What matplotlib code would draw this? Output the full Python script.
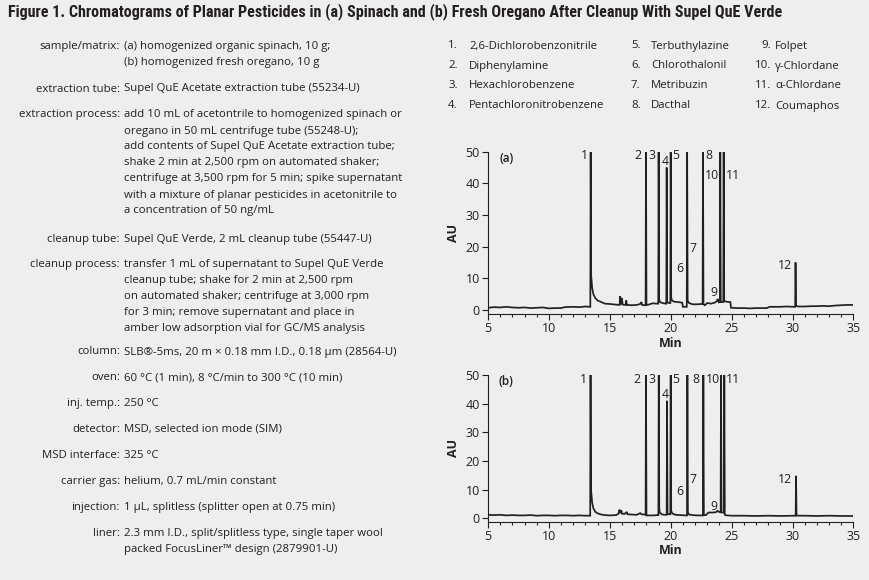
"""
Figure 1 recreation: chromatograms of planar pesticides, spinach (a) and oregano (b).
"""

import matplotlib

matplotlib.use("Agg")
import matplotlib.pyplot as plt
import numpy as np
from matplotlib import font_manager
from matplotlib.ticker import MultipleLocator

W, H = 869, 580
BG = "#eeeeee"
INK = "#231f20"

# ---- data -------------------------------------------------------------------
title = ("Figure 1. Chromatograms of Planar Pesticides in (a) Spinach and "
         "(b) Fresh Oregano After Cleanup With Supel QuE Verde")

cond_labels = ["sample/matrix:", "extraction tube:", "extraction process:",
               "cleanup tube:", "cleanup process:", "column:", "oven:",
               "inj. temp.:", "detector:", "MSD interface:", "carrier gas:",
               "injection:", "liner:"]
cond_values = [
    ["(a) homogenized organic spinach, 10 g;", "(b) homogenized fresh oregano, 10 g"],
    ["Supel QuE Acetate extraction tube (55234-U)"],
    ["add 10 mL of acetontrile to homogenized spinach or",
     "oregano in 50 mL centrifuge tube (55248-U);",
     "add contents of Supel QuE Acetate extraction tube;",
     "shake 2 min at 2,500 rpm on automated shaker;",
     "centrifuge at 3,500 rpm for 5 min; spike supernatant",
     "with a mixture of planar pesticides in acetonitrile to",
     "a concentration of 50 ng/mL"],
    ["Supel QuE Verde, 2 mL cleanup tube (55447-U)"],
    ["transfer 1 mL of supernatant to Supel QuE Verde",
     "cleanup tube; shake for 2 min at 2,500 rpm",
     "on automated shaker; centrifuge at 3,000 rpm",
     "for 3 min; remove supernatant and place in",
     "amber low adsorption vial for GC/MS analysis"],
    ["SLB\u00ae-5ms, 20 m \u00d7 0.18 mm I.D., 0.18 \u00b5m (28564-U)"],
    ["60 \u00b0C (1 min), 8 \u00b0C/min to 300 \u00b0C (10 min)"],
    ["250 \u00b0C"],
    ["MSD, selected ion mode (SIM)"],
    ["325 \u00b0C"],
    ["helium, 0.7 mL/min constant"],
    ["1 \u00b5L, splitless (splitter open at 0.75 min)"],
    ["2.3 mm I.D., split/splitless type, single taper wool",
     "packed FocusLiner\u2122 design (2879901-U)"],
]
cond_rows_y = [46.5, 89, 115, 239.5, 264.5, 352, 378, 403.5, 429, 456, 481.5, 507.5, 533.5]

compounds = ["2,6-Dichlorobenzonitrile", "Diphenylamine", "Hexachlorobenzene",
             "Pentachloronitrobenzene", "Terbuthylazine", "Chlorothalonil",
             "Metribuzin", "Dacthal", "Folpet", "\u03b3-Chlordane",
             "\u03b1-Chlordane", "Coumaphos"]

# panel (a) spinach: baseline knots (min, AU)
base_a_t = [5.0, 5.5, 6.0, 6.5, 7.0, 7.5, 8.0, 8.5, 9.0, 9.5, 10.0, 10.5, 11.0, 11.3,
            12.0, 12.5, 13.0, 13.35, 13.55, 13.65, 13.8, 14.0, 14.3, 14.6, 15.0, 15.5,
            15.8, 15.85, 15.9, 16.0, 16.05, 16.3, 16.35, 16.4, 16.8, 17.2, 17.5, 17.6,
            17.65, 17.85, 18.2, 18.5, 18.9, 19.1, 19.3, 19.6, 19.9, 20.1, 20.3, 20.6,
            20.95, 21.0, 21.25, 21.5, 21.8, 22.2, 22.55, 22.8, 23.0, 23.3, 23.6, 23.8,
            23.85, 23.95, 24.6, 24.9, 24.95, 25.5, 26.0, 26.5, 27.0, 27.5, 27.9, 28.1,
            28.5, 29.0, 29.5, 30.1, 30.5, 31.0, 31.5, 32.0, 32.5, 33.0, 33.5, 34.0,
            34.5, 35.0]
base_a_y = [0.7, 0.9, 0.8, 1.0, 0.8, 0.7, 0.8, 0.6, 0.7, 0.8, 0.5, 0.6, 0.6, 0.9,
            1.0, 0.9, 1.1, 1.0, 7.0, 5.0, 3.8, 3.0, 2.5, 2.0, 1.9, 1.7,
            1.6, 4.4, 1.8, 3.8, 1.7, 1.6, 3.0, 1.6, 1.5, 1.6, 1.9, 2.5,
            1.6, 1.5, 1.7, 2.1, 2.0, 2.6, 2.2, 2.0, 2.2, 3.0, 2.6, 2.5,
            2.3, 1.0, 1.0, 2.2, 1.8, 1.8, 1.9, 1.5, 2.2, 2.0, 2.3, 2.8,
            3.5, 2.4, 2.6, 2.5, 0.7, 0.6, 0.6, 0.5, 0.6, 0.6, 0.6, 1.0,
            1.0, 1.0, 1.1, 1.0, 1.1, 1.1, 1.2, 1.2, 1.3, 1.2, 1.4, 1.5,
            1.6, 1.6]
# peaks: retention time, visible top (clipped at 50), level before, level after
peak_a_t = [13.43, 17.97, 19.01, 19.67, 20.0, 21.35, 22.65, 24.07, 24.35, 30.25]
peak_a_h = [50, 50, 50, 45, 50, 50, 50, 50, 50, 15]
peak_a_pre = [1.0, 1.5, 2.0, 2.0, 2.2, 1.0, 1.9, 2.5, 2.5, 1.0]
peak_a_post = [11.0, 1.6, 3.5, 2.4, 4.0, 3.0, 1.8, 2.5, 2.8, 1.3]

# panel (b) oregano
base_b_t = [5.0, 5.5, 6.0, 6.5, 7.0, 7.5, 8.0, 8.5, 9.0, 9.5, 10.0, 10.5, 11.0, 11.5,
            12.0, 12.5, 13.0, 13.35, 13.55, 13.65, 13.8, 14.0, 14.3, 14.6, 15.0, 15.5,
            15.7, 15.8, 15.85, 15.95, 16.0, 16.2, 16.4, 16.45, 16.8, 17.2, 17.5, 17.6,
            17.85, 18.2, 18.6, 18.9, 19.1, 19.3, 19.6, 19.9, 20.15, 20.4, 20.8, 21.2,
            21.5, 21.8, 22.2, 22.55, 22.9, 23.1, 23.4, 23.7, 23.85, 23.95, 24.6, 25.0,
            26.0, 27.0, 28.0, 29.0, 30.15, 30.5, 31.0, 32.0, 33.0, 34.0, 35.0]
base_b_y = [1.2, 1.1, 1.2, 1.0, 1.1, 1.0, 1.0, 1.1, 0.9, 1.0, 1.0, 0.9, 1.0, 1.0,
            0.9, 1.0, 0.9, 0.9, 5.5, 3.5, 2.3, 1.7, 1.3, 1.1, 1.0, 1.1,
            1.5, 3.0, 1.8, 2.8, 1.6, 1.5, 2.2, 1.4, 1.3, 1.2, 1.8, 1.4,
            1.3, 1.0, 1.0, 1.1, 2.0, 1.3, 1.2, 1.4, 1.6, 1.2, 1.1, 1.0,
            1.3, 1.1, 1.0, 1.0, 1.1, 2.0, 2.0, 2.1, 2.6, 2.2, 1.0, 0.9,
            0.9, 0.8, 0.9, 0.8, 0.9, 0.9, 0.9, 0.8, 0.9, 0.8, 0.8]
peak_b_t = [13.42, 17.97, 19.02, 19.7, 20.0, 21.37, 22.68, 24.13, 24.4, 30.29]
peak_b_h = [50, 50, 50, 41, 50, 50, 50, 50, 50, 14.8]
peak_b_pre = [0.9, 1.3, 1.1, 1.2, 1.4, 1.0, 1.0, 2.2, 2.0, 0.9]
peak_b_post = [10.0, 1.0, 3.5, 1.5, 2.5, 2.0, 1.1, 2.0, 1.2, 1.0]

# peak number labels: text, x (min), y (AU)
peak_labels = ["1", "2", "3", "4", "5", "6", "7", "8", "9", "10", "11", "12"]
lab_a_x = [12.9, 17.3, 18.5, 19.55, 20.4, 20.77, 21.8, 23.1, 23.55, 23.35, 25.1, 29.4]
lab_a_y = [48.8, 48.8, 48.8, 47.0, 48.8, 13.0, 19.5, 48.8, 5.5, 42.5, 42.5, 14.1]
lab_b_x = [12.85, 17.26, 18.47, 19.56, 20.43, 20.76, 21.8, 22.1, 23.55, 23.45, 25.14, 29.4]
lab_b_y = [48.4, 48.4, 48.4, 43.2, 48.4, 9.5, 13.7, 48.4, 4.0, 48.4, 48.4, 13.7]


# ---- helpers ----------------------------------------------------------------
def pick_family(candidates):
    names = {f.name for f in font_manager.fontManager.ttflist}
    for c in candidates:
        if c in names:
            return c
    return "DejaVu Sans"


BODY = pick_family(["Open Sans", "Noto Sans", "Lato", "DejaVu Sans"])
TITLE = pick_family(["Liberation Sans Narrow", "Roboto Condensed", "DejaVu Sans"])


def fx(x):
    return x / W


def fy(y):
    return 1 - y / H


def build_trace(bt, by, pt, ph, pre, post):
    pts = list(zip(bt, by))
    for t, h, a, b in zip(pt, ph, pre, post):
        pts += [(t - 0.03, a), (t, h), (t + 0.04, b)]
    pts.sort(key=lambda p: p[0])
    arr = np.array(pts)
    return arr[:, 0], arr[:, 1]


def draw_panel(ax, trace, tag, labels_x, labels_y, ybottom):
    t, y = trace
    ax.plot(t, y, color=INK, lw=1.25, solid_joinstyle="miter")
    ax.set_xlim(5, 35)
    ax.set_ylim(ybottom, 50)
    ax.set_facecolor(BG)
    for s in ("top", "right"):
        ax.spines[s].set_visible(False)
    for s in ("left", "bottom"):
        ax.spines[s].set_color(INK)
        ax.spines[s].set_linewidth(0.8)
    ax.xaxis.set_major_locator(MultipleLocator(5))
    ax.xaxis.set_minor_locator(MultipleLocator(1))
    ax.yaxis.set_major_locator(MultipleLocator(10))
    ax.tick_params(axis="both", which="major", direction="out", length=4,
                   width=0.8, color=INK, labelsize=9, labelcolor=INK, pad=2)
    ax.tick_params(axis="x", which="minor", direction="out", length=2.5,
                   width=0.8, color=INK)
    for lbl in ax.get_xticklabels() + ax.get_yticklabels():
        lbl.set_fontfamily(BODY)
    ax.set_xlabel("Min", fontfamily=BODY, fontsize=9, fontweight="bold",
                  color=INK, labelpad=1)
    ax.set_ylabel("AU", fontfamily=BODY, fontsize=9, fontweight="bold",
                  color=INK, labelpad=4)
    ax.text(6.5, 50, tag, fontfamily=BODY, fontsize=8.5, fontweight="semibold",
            color=INK, ha="center", va="top")
    for s, x, yy in zip(peak_labels, labels_x, labels_y):
        ax.text(x, yy, s, fontfamily=BODY, fontsize=8.8, color=INK,
                ha="center", va="center")


# ---- figure -----------------------------------------------------------------
fig = plt.figure(figsize=(W / 100, H / 100), dpi=100, facecolor=BG)

fig.text(fx(8), fy(12), title, fontfamily=TITLE, fontsize=11.6,
         fontweight="bold", color=INK, ha="left", va="center")

for label, lines, y0 in zip(cond_labels, cond_values, cond_rows_y):
    fig.text(fx(120), fy(y0), label, fontfamily=BODY, fontsize=8.2,
             color=INK, ha="right", va="center")
    for k, line in enumerate(lines):
        fig.text(fx(124), fy(y0 + 16 * k), line, fontfamily=BODY, fontsize=8.2,
                 color=INK, ha="left", va="center")

rows_y = [46, 66, 86, 106]
for i, name in enumerate(compounds):
    col, row = divmod(i, 4)
    y = fy(rows_y[row])
    num = f"{i + 1}."
    if col < 2:
        nx, tx = (448, 469) if col == 0 else (631, 651)
        fig.text(fx(nx), y, num, fontfamily=BODY, fontsize=8.2, color=INK,
                 ha="left", va="center")
    else:
        tx = 775
        fig.text(fx(771), y, num, fontfamily=BODY, fontsize=8.2, color=INK,
                 ha="right", va="center")
    fig.text(fx(tx), y, name, fontfamily=BODY, fontsize=8.2, color=INK,
             ha="left", va="center")

# axes placed in pixel coordinates
ax_a = fig.add_axes([fx(488), fy(314.1), (853.4 - 488) / W, (314.1 - 151.7) / H])
ax_b = fig.add_axes([fx(488), fy(521.7), (853.4 - 488) / W, (521.7 - 375.0) / H])

draw_panel(ax_a, build_trace(base_a_t, base_a_y, peak_a_t, peak_a_h, peak_a_pre, peak_a_post),
           "(a)", lab_a_x, lab_a_y, -1.3)
draw_panel(ax_b, build_trace(base_b_t, base_b_y, peak_b_t, peak_b_h, peak_b_pre, peak_b_post),
           "(b)", lab_b_x, lab_b_y, -1.2)

fig.savefig("out.png", dpi=100, facecolor=BG)
